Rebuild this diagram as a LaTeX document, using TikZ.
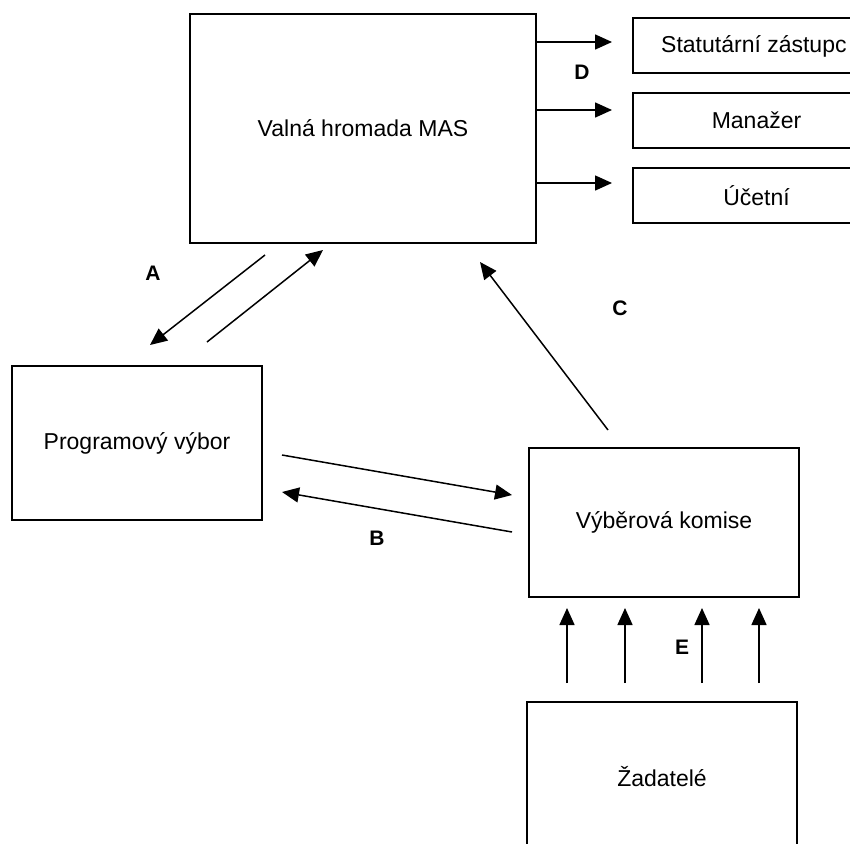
\documentclass[tikz,border=0pt]{standalone}
\usepackage{fontspec}
\setmainfont{Liberation Sans}
\usetikzlibrary{arrows.meta}
\begin{document}
\begin{tikzpicture}[x=1pt,y=-1pt,
  box/.style={draw, line width=2pt, inner sep=0pt, font=\fontsize{23}{27}\selectfont},
  txt/.style={inner sep=0pt, font=\fontsize{23}{27}\selectfont},
  conn/.style={line width=1.5pt, -{Triangle[length=17pt,width=15pt]}},
  lbl/.style={inner sep=0pt, font=\fontsize{21}{25}\selectfont\bfseries}]
\useasboundingbox (0,0) rectangle (850,843);
\fill[white] (0,0) rectangle (850,843);
% boxes
\node[box, minimum width=346pt, minimum height=229pt] (vh) at (363,128.5) {Valná hromada MAS};
\node[box, minimum width=250pt, minimum height=154pt] (pv) at (137,443) {Programový výbor};
\node[box, minimum width=270pt, minimum height=149pt] (vk) at (664,522.5) {Výběrová komise};
\node[box, minimum width=270pt, minimum height=150pt] (zd) at (662,777) {Žadatelé};
\node[box, minimum width=247pt, minimum height=55pt] (st) at (756.5,45.5) {};
\node[txt, anchor=west] (stt) at (661,46) {Statutární zástupc};
\node[box, minimum width=247pt, minimum height=55pt] (ma) at (756.5,120.5) {Manažer};
\node[box, minimum width=247pt, minimum height=55pt] (uc) at (756.5,195.5) {Účetní};
% D arrows
\coordinate (d1s) at (536,42);  \coordinate (d1e) at (612,42);
\coordinate (d2s) at (536,110); \coordinate (d2e) at (612,110);
\coordinate (d3s) at (536,183); \coordinate (d3e) at (612,183);
\draw[conn] (d1s) -- (d1e);
\draw[conn] (d2s) -- (d2e);
\draw[conn] (d3s) -- (d3e);
% A arrows
\coordinate (a1s) at (265,255); \coordinate (a1e) at (150,345);
\coordinate (a2s) at (207,342); \coordinate (a2e) at (323,250);
\draw[conn] (a1s) -- (a1e);
\draw[conn] (a2s) -- (a2e);
% B arrows
\coordinate (b1s) at (282,455); \coordinate (b1e) at (512,495);
\coordinate (b2s) at (512,532); \coordinate (b2e) at (282,492);
\draw[conn] (b1s) -- (b1e);
\draw[conn] (b2s) -- (b2e);
% C arrow
\coordinate (cs) at (608,430); \coordinate (ce) at (480,262);
\draw[conn] (cs) -- (ce);
% E arrows
\foreach \i/\x in {1/567,2/625,3/702,4/759}{
  \coordinate (es\i) at (\x,683); \coordinate (ee\i) at (\x,608);
  \draw[conn] (es\i) -- (ee\i);
}
% labels
\node[lbl] (la) at (153,273) {A};
\node[lbl] (lb) at (377,538) {B};
\node[lbl] (lc) at (620,308) {C};
\node[lbl] (ld) at (582,72) {D};
\node[lbl] (le) at (682,647) {E};
\end{tikzpicture}
\end{document}
